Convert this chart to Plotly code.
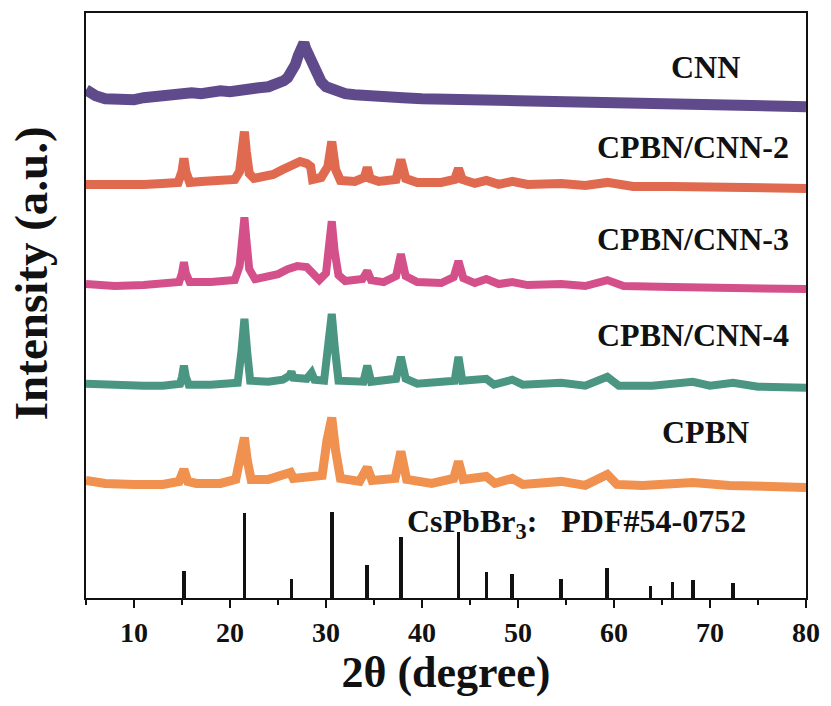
import plotly.graph_objects as go

# ---------------- data ----------------
# CNN
cnn_x = [5, 5.5, 6, 7, 8, 9, 10, 11, 12, 13, 14, 15, 16, 17, 18, 19, 20, 21, 22, 23, 24, 25, 25.6,
         26, 26.4, 26.8, 27.1, 27.3, 27.5, 27.7, 27.9, 28.1, 28.5, 29.0, 29.5, 30, 31, 32, 33, 34,
         35, 36, 38, 40, 42, 45, 47, 50, 55, 60, 65, 70, 75, 80]
cnn_y = [15, 11, 9, 6, 5, 6, 5, 7, 8, 10, 9, 11, 12, 11, 13, 14, 13, 15, 16, 17, 18, 20, 24,
         27, 33, 40, 49, 55, 58, 62, 56, 51, 41, 31, 23, 18, 14, 11, 10, 9,
         9, 8, 7, 6, 6, 5, 6, 4, 3, 2, 1, 1, 0, -2]

# CPBN/CNN-2
c2_x = [5, 8, 11, 13, 14.6, 15.0, 15.2, 15.4, 15.8, 17, 19, 20.5, 21.0, 21.3, 21.5, 21.7, 22.0,
        22.5, 23.5, 24.5, 25.5, 26.5, 27.3, 28.0, 28.4, 28.6, 29.5, 30.2, 30.6, 31.0, 31.5, 33,
        34.0, 34.3, 34.6, 35.5, 37.3, 37.8, 38.3, 39.5, 42, 43.4, 43.8, 44.2, 45.5, 46.7, 48,
        49.4, 51, 54.5, 57, 59.3, 62, 66, 70, 75, 80]
c2_y = [0, -1, 0, 1, 2, 13, 26, 13, 2, 3, 4, 5, 13, 33, 53, 33, 11,
        6, 7, 10, 15, 20, 23, 21, 18, 5, 7, 18, 43, 15, 4, 3,
        7, 17, 6, 3, 5, 25, 6, 2, 2, 5, 16, 5, 1, 4, 0,
        3, 0, 1, -1, 2, -2, -2, -3, -3, -4]

# CPBN/CNN-3
c3_x = [5, 8, 11, 13, 14.7, 15.0, 15.2, 15.4, 15.8, 18, 20.5, 21.0, 21.3, 21.5, 21.7, 22.0, 22.6,
        24, 25, 26, 27, 28, 28.7, 29.3, 30.0, 30.3, 30.6, 30.9, 31.3, 32, 33.8, 34.3, 34.7, 36,
        37.3, 37.8, 38.3, 39.5, 42, 43.3, 43.8, 44.3, 45.5, 46.7, 48, 49.4, 51, 54.5, 57, 59.3,
        61, 66, 70, 75, 80]
c3_y = [0, -2, -1, 0, 2, 11, 22, 11, 2, 2, 4, 18, 48, 67, 45, 15, 5,
        7, 10, 15, 18, 17, 11, 4, 11, 33, 63, 33, 9, 3, 5, 13, 4, 2,
        8, 30, 8, 2, 1, 7, 23, 6, 1, 5, 0, 2, -1, 0, -2, 4,
        -2, -3, -4, -4, -5]

# CPBN/CNN-4
c4_x = [5, 8, 11, 13, 14.8, 15.0, 15.2, 15.4, 15.7, 18, 20.8, 21.2, 21.5, 21.8, 22.1, 24, 25.5,
        26.2, 26.4, 26.6, 27.3, 28.0, 28.5, 28.8, 29.8, 30.3, 30.6, 30.9, 31.3, 33.9, 34.3, 34.7,
        37.3, 37.8, 38.3, 39.5, 43.4, 43.8, 44.2, 46.7, 47.5, 49.4, 50.5, 54.5, 57, 59.3, 60.5,
        64, 68.2, 70, 72.4, 75, 80]
c4_y = [1, -1, -1, -1, 1, 8, 19, 8, 0, 0, 2, 34, 66, 32, 4, 3, 5,
        9, 13, 7, 6, 6, 12, 5, 4, 39, 71, 39, 4, 3, 19, 3,
        6, 28, 6, 1, 4, 28, 4, 6, 0, 5, 0, 2, -1, 8, -1,
        -1, 3, -1, 2, -2, -3]

# CPBN
cp_x = [5, 7, 10, 13, 14.7, 15.2, 15.6, 16.5, 19, 20.6, 21.0, 21.5, 21.8, 22.2, 24, 26.3, 26.6,
        28.5, 29.6, 30.1, 30.6, 31.0, 31.5, 33.5, 34.3, 34.8, 37.2, 37.8, 38.4, 41, 43.3, 43.8,
        44.3, 46.7, 47.6, 49.4, 50.5, 54.5, 57, 59.3, 60.3, 63, 68.2, 72, 80]
cp_y = [3, 0, -1, -1, 2, 14, 2, 0, 0, 4, 23, 46, 23, 4, 4, 11, 5,
        7, 8, 43, 66, 33, 5, 2, 16, 3, 5, 32, 4, 0, 5, 22,
        4, 7, 0, 5, -1, 2, -2, 9, -1, -2, 1, -2, -4]

# standard card CsPbBr3 PDF#54-0752
pdf_x = [15.2, 21.5, 26.4, 30.6, 34.3, 37.8, 43.8, 46.7, 49.4, 54.5, 59.3, 63.8, 66.1, 68.2, 72.4]
pdf_i = [31, 99, 22, 100, 38, 71, 77, 30, 28, 22, 35, 14, 19, 21, 17]

series_names = ["CNN", "CPBN/CNN-2", "CPBN/CNN-3", "CPBN/CNN-4", "CPBN"]
x_ticks = [10, 20, 30, 40, 50, 60, 70, 80]

# ---------------- styling ----------------
colors = ["#5F4B8B", "#E06A50", "#D4508A", "#4A9682", "#F0914F"]
offsets = [495, 415, 315, 214, 115]
widths = [11, 9, 8, 8, 9]
label_y = [533, 453, 360, 264, 167]
label_px = [706, 694, 694, 694, 706]
pdf_scale = 0.86

FONT = "Liberation Serif, Times New Roman, serif"

fig = go.Figure()

fig.add_trace(go.Bar(x=pdf_x, y=[v * pdf_scale for v in pdf_i], width=0.38,
                     marker=dict(color="#111111", line=dict(width=0)), showlegend=False))

data = [(cnn_x, cnn_y), (c2_x, c2_y), (c3_x, c3_y), (c4_x, c4_y), (cp_x, cp_y)]
for (xs, ys), name, col, off, w in zip(data, series_names, colors, offsets, widths):
    fig.add_trace(go.Scatter(x=xs, y=[v + off for v in ys], mode="lines", name=name,
                             line=dict(color=col, width=w), showlegend=False))

for name, px, ly in zip(series_names, label_px, label_y):
    fig.add_annotation(x=(px - 86) / 721.0, y=ly, xref="paper", yref="y", text=f"<b>{name}</b>",
                       showarrow=False, xanchor="center", yanchor="middle",
                       font=dict(family=FONT, size=32, color="#111111"))

fig.add_annotation(x=(577 - 86) / 721.0, y=75, xref="paper", yref="y",
                   text="<b>CsPbBr<sub>3</sub>:\u00a0\u00a0 PDF#54-0752</b>", showarrow=False,
                   xanchor="center", yanchor="middle",
                   font=dict(family=FONT, size=32, color="#111111"))

# y-axis title as rotated annotation (placed like in the reference)
fig.add_annotation(x=(31 - 86) / 721.0, y=(598 - 272), xref="paper", yref="y",
                   text="<b>Intensity (a.u.)</b>", textangle=-90, showarrow=False,
                   xanchor="center", yanchor="middle",
                   font=dict(family=FONT, size=47, color="#111111"))

fig.update_layout(
    width=831, height=706,
    margin=dict(l=86, r=24, t=11, b=108),
    plot_bgcolor="white", paper_bgcolor="white",
    bargap=0,
    xaxis=dict(range=[5, 80], tickvals=x_ticks, ticks="outside", ticklen=8, tickwidth=2,
               tickcolor="#111111", showline=True, linecolor="#111111", linewidth=2,
               mirror=True, showgrid=False, zeroline=False,
               minor=dict(dtick=5, tick0=5, ticks="outside", ticklen=5, tickwidth=2,
                          tickcolor="#111111", showgrid=False),
               tickfont=dict(family=FONT, size=28, color="#111111", weight="bold"),
               title=dict(text="<b>2θ (degree)</b>", standoff=10,
                          font=dict(family=FONT, size=44, color="#111111"))),
    yaxis=dict(range=[0, 587], showticklabels=False, ticks="", showline=True,
               linecolor="#111111", linewidth=2, mirror=True, showgrid=False, zeroline=False),
)

fig.write_html("out.html")
